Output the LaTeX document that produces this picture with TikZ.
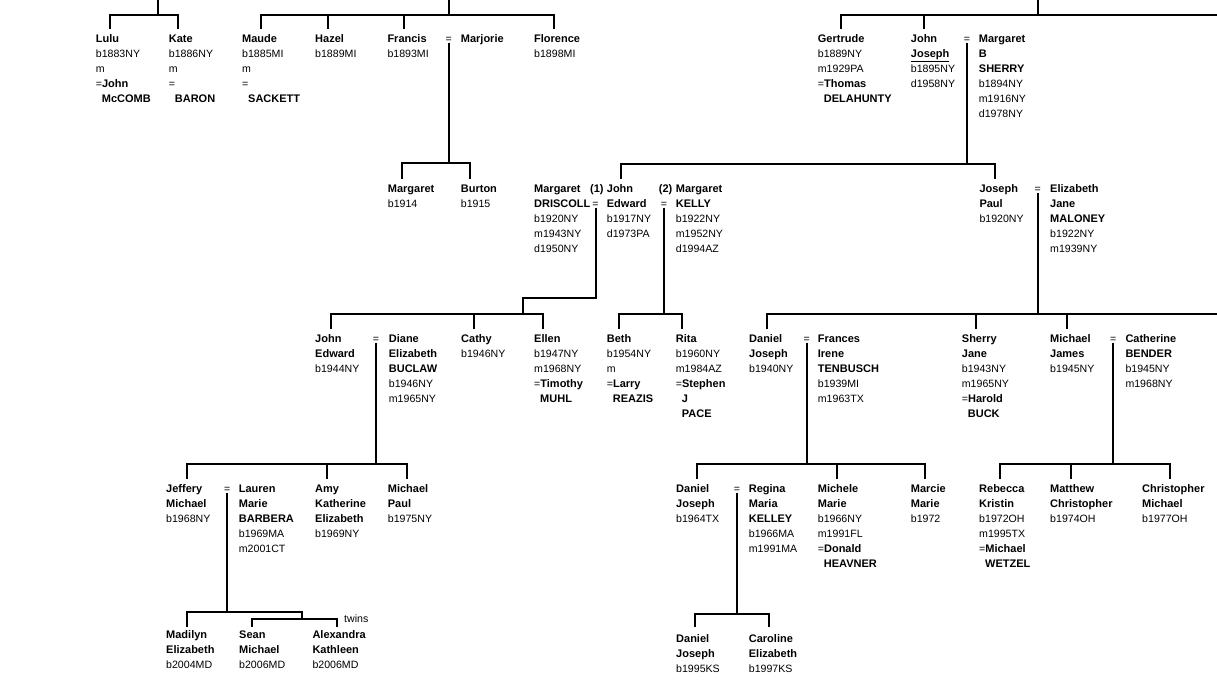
\documentclass[tikz,border=0pt]{standalone}
\usepackage{fontspec}
\setmainfont{Liberation Sans}
\newcommand{\nm}[1]{{\fontsize{11}{15}\selectfont\bfseries\rule{0pt}{10pt}#1}}
\newcommand{\sur}[1]{\hspace*{6pt}\nm{#1}}

\begin{document}
\begin{tikzpicture}[
    x=1pt, y=-1pt,
    % Person text blocks: top of the first line at the given point
    person/.style={anchor=north west, inner sep=0pt, align=left, font=\fontsize{10.6}{15}\selectfont},
    % Marriage sign and small notes
    wed/.style={anchor=base, inner sep=0pt, font=\fontsize{10.6}{15}\selectfont},
    note/.style={anchor=base west, inner sep=0pt, font=\fontsize{10.6}{15}\selectfont},
    % Tree lines
    link/.style={line width=2pt},
]
\useasboundingbox (0,0) rectangle (1217,691);

% Generation 1
\node[person] (lulu) at (95.7,32.5) {\nm{Lulu}\\b1883NY\\m\\=\nm{John}\\\sur{McCOMB}};
\node[person] (kate) at (168.7,32.5) {\nm{Kate}\\b1886NY\\m\\=\\\sur{BARON}};
\node[person] (maude) at (242,32.5) {\nm{Maude}\\b1885MI\\m\\=\\\sur{SACKETT}};
\node[person] (hazel) at (315,32.5) {\nm{Hazel}\\b1889MI};
\node[person] (francis) at (387.3,32.5) {\nm{Francis}\\b1893MI};
\node[wed] (w1FM) at (448.7,42.5) {=};
\node[person] (marjorie) at (460.7,32.5) {\nm{Marjorie}};
\node[person] (florence) at (534,32.5) {\nm{Florence}\\b1898MI};
\node[person] (gertrude) at (817.7,32.5) {\nm{Gertrude}\\b1889NY\\m1929PA\\=\nm{Thomas}\\\sur{DELAHUNTY}};
\node[person] (johnj) at (910.7,32.5) {\nm{John}\\\nm{\underline{Joseph}}\\b1895NY\\d1958NY};
\node[wed] (w1JS) at (967,42.5) {=};
\node[person] (sherryB) at (978.7,32.5) {\nm{Margaret}\\\nm{B}\\\nm{SHERRY}\\b1894NY\\m1916NY\\d1978NY};

% Generation 2
\node[person] (margaret) at (387.7,182.5) {\nm{Margaret}\\b1914};
\node[person] (burton) at (460.7,182.5) {\nm{Burton}\\b1915};
\node[person] (driscoll) at (534,182.5) {\nm{Margaret}\\\nm{DRISCOLL}\\b1920NY\\m1943NY\\d1950NY};
\node[person] (first) at (590,182.5) {\nm{(1)}};
\node[wed] (w2D) at (595.5,207.5) {=};
\node[person] (johne) at (606.7,182.5) {\nm{John}\\\nm{Edward}\\b1917NY\\d1973PA};
\node[person] (second) at (658.7,182.5) {\nm{(2)}};
\node[wed] (w2K) at (664,207.5) {=};
\node[person] (kelly) at (675.7,182.5) {\nm{Margaret}\\\nm{KELLY}\\b1922NY\\m1952NY\\d1994AZ};
\node[person] (josephp) at (979.3,182.5) {\nm{Joseph}\\\nm{Paul}\\b1920NY};
\node[wed] (w2JP) at (1037.7,192.5) {=};
\node[person] (maloney) at (1050,182.5) {\nm{Elizabeth}\\\nm{Jane}\\\nm{MALONEY}\\b1922NY\\m1939NY};

% Generation 3
\node[person] (johne3) at (315,332.5) {\nm{John}\\\nm{Edward}\\b1944NY};
\node[wed] (w3JD) at (376,342.5) {=};
\node[person] (diane) at (388.7,332.5) {\nm{Diane}\\\nm{Elizabeth}\\\nm{BUCLAW}\\b1946NY\\m1965NY};
\node[person] (cathy) at (461,332.5) {\nm{Cathy}\\b1946NY};
\node[person] (ellen) at (534,332.5) {\nm{Ellen}\\b1947NY\\m1968NY\\=\nm{Timothy}\\\sur{MUHL}};
\node[person] (beth) at (606.7,332.5) {\nm{Beth}\\b1954NY\\m\\=\nm{Larry}\\\sur{REAZIS}};
\node[person] (rita) at (675.7,332.5) {\nm{Rita}\\b1960NY\\m1984AZ\\=\nm{Stephen}\\\sur{J}\\\sur{PACE}};
\node[person] (daniel3) at (749,332.5) {\nm{Daniel}\\\nm{Joseph}\\b1940NY};
\node[wed] (w3DF) at (806.7,342.5) {=};
\node[person] (frances) at (817.7,332.5) {\nm{Frances}\\\nm{Irene}\\\nm{TENBUSCH}\\b1939MI\\m1963TX};
\node[person] (sherry) at (961.7,332.5) {\nm{Sherry}\\\nm{Jane}\\b1943NY\\m1965NY\\=\nm{Harold}\\\sur{BUCK}};
\node[person] (michael3) at (1050,332.5) {\nm{Michael}\\\nm{James}\\b1945NY};
\node[wed] (w3MC) at (1113.3,342.5) {=};
\node[person] (bender) at (1125.3,332.5) {\nm{Catherine}\\\nm{BENDER}\\b1945NY\\m1968NY};

% Generation 4
\node[person] (jeffery) at (166,482.5) {\nm{Jeffery}\\\nm{Michael}\\b1968NY};
\node[wed] (w4JL) at (227.3,492.5) {=};
\node[person] (lauren) at (238.7,482.5) {\nm{Lauren}\\\nm{Marie}\\\nm{BARBERA}\\b1969MA\\m2001CT};
\node[person] (amy) at (315,482.5) {\nm{Amy}\\\nm{Katherine}\\\nm{Elizabeth}\\b1969NY};
\node[person] (michaelp) at (387.7,482.5) {\nm{Michael}\\\nm{Paul}\\b1975NY};
\node[person] (daniel4) at (676,482.5) {\nm{Daniel}\\\nm{Joseph}\\b1964TX};
\node[wed] (w4DR) at (737,492.5) {=};
\node[person] (regina) at (748.7,482.5) {\nm{Regina}\\\nm{Maria}\\\nm{KELLEY}\\b1966MA\\m1991MA};
\node[person] (michele) at (817.7,482.5) {\nm{Michele}\\\nm{Marie}\\b1966NY\\m1991FL\\=\nm{Donald}\\\sur{HEAVNER}};
\node[person] (marcie) at (910.7,482.5) {\nm{Marcie}\\\nm{Marie}\\b1972};
\node[person] (rebecca) at (979,482.5) {\nm{Rebecca}\\\nm{Kristin}\\b1972OH\\m1995TX\\=\nm{Michael}\\\sur{WETZEL}};
\node[person] (matthew) at (1050,482.5) {\nm{Matthew}\\\nm{Christopher}\\b1974OH};
\node[person] (christopher) at (1142,482.5) {\nm{Christopher}\\\nm{Michael}\\b1977OH};

% Generation 5
\node[person] (madilyn) at (166,628.5) {\nm{Madilyn}\\\nm{Elizabeth}\\b2004MD};
\node[person] (sean) at (239,628.5) {\nm{Sean}\\\nm{Michael}\\b2006MD};
\node[person] (alexandra) at (312.3,628.5) {\nm{Alexandra}\\\nm{Kathleen}\\b2006MD};
\node[note] (twins) at (344,622.7) {twins};
\node[person] (daniel5) at (676,632.5) {\nm{Daniel}\\\nm{Joseph}\\b1995KS};
\node[person] (caroline) at (748.7,632.5) {\nm{Caroline}\\\nm{Elizabeth}\\b1997KS};

% Junctions
\coordinate (top0L) at (157.7,0);   \coordinate (j0L) at (157.7,15);
\coordinate (top0M) at (448.7,0);   \coordinate (j0M) at (448.7,15);
\coordinate (top0R) at (1038,0);    \coordinate (j0R) at (1038,15);
\coordinate (off0R) at (1217,15);
\coordinate (j1FM) at (448.7,163);
\coordinate (j1JS) at (967,164);
\coordinate (k2D) at (523,298);     \coordinate (j2D) at (523,314);
\coordinate (j2K) at (664,314);
\coordinate (j2JP) at (1037.7,314); \coordinate (off2R) at (1217,314);
\coordinate (j3JD) at (376,464);
\coordinate (j3DF) at (806.7,464);
\coordinate (j3MC) at (1113.3,464);
\coordinate (j4JL) at (227.3,611.7); \coordinate (j4Tw) at (301.7,619.3);
\coordinate (j4DR) at (737,614);

% Lines down to generation 1
\draw[link] (top0L) -- (j0L);
\draw[link] ([xshift=14.3pt,yshift=3.7pt]lulu.north west) |- (j0L);
\draw[link] ([xshift=9pt,yshift=3.7pt]kate.north west) |- (j0L);
\draw[link] (top0M) -- (j0M);
\draw[link] ([xshift=19pt,yshift=3.7pt]maude.north west) |- (j0M);
\draw[link] ([xshift=13pt,yshift=3.7pt]hazel.north west) |- (j0M);
\draw[link] ([xshift=16.7pt,yshift=3.7pt]francis.north west) |- (j0M);
\draw[link] ([xshift=19.7pt,yshift=3.7pt]florence.north west) |- (j0M);
\draw[link] (top0R) -- (j0R) -- (off0R);
\draw[link] ([xshift=23.3pt,yshift=3.7pt]gertrude.north west) |- (j0R);
\draw[link] ([xshift=13.3pt,yshift=3.7pt]johnj.north west) |- (j0R);

% Lines down to generation 2
\draw[link] (w1FM.south) -- (j1FM);
\draw[link] ([xshift=14.3pt,yshift=3.7pt]margaret.north west) |- (j1FM);
\draw[link] ([xshift=9.3pt,yshift=3.7pt]burton.north west) |- (j1FM);
\draw[link] (w1JS.south) -- (j1JS);
\draw[link] ([xshift=14pt,yshift=3.7pt]johne.north west) |- (j1JS);
\draw[link] ([xshift=15.7pt,yshift=3.7pt]josephp.north west) |- (j1JS);

% Lines down to generation 3
\draw[link] (w2D.south) |- (k2D) -- (j2D);
\draw[link] ([xshift=16pt,yshift=3.7pt]johne3.north west) |- (j2D);
\draw[link] ([xshift=13pt,yshift=3.7pt]cathy.north west) |- (j2D);
\draw[link] ([xshift=9pt,yshift=3.7pt]ellen.north west) |- (j2D);
\draw[link] (w2K.south) -- (j2K);
\draw[link] ([xshift=12.3pt,yshift=3.7pt]beth.north west) |- (j2K);
\draw[link] ([xshift=6.3pt,yshift=3.7pt]rita.north west) |- (j2K);
\draw[link] (w2JP.south) -- (j2JP) -- (off2R);
\draw[link] ([xshift=17.7pt,yshift=3.7pt]daniel3.north west) |- (j2JP);
\draw[link] ([xshift=14.3pt,yshift=3.7pt]sherry.north west) |- (j2JP);
\draw[link] ([xshift=17.3pt,yshift=3.7pt]michael3.north west) |- (j2JP);

% Lines down to generation 4
\draw[link] (w3JD.south) -- (j3JD);
\draw[link] ([xshift=20.7pt,yshift=3.7pt]jeffery.north west) |- (j3JD);
\draw[link] ([xshift=11.7pt,yshift=3.7pt]amy.north west) |- (j3JD);
\draw[link] ([xshift=19pt,yshift=3.7pt]michaelp.north west) |- (j3JD);
\draw[link] (w3DF.south) -- (j3DF);
\draw[link] ([xshift=20.7pt,yshift=3.7pt]daniel4.north west) |- (j3DF);
\draw[link] ([xshift=19pt,yshift=3.7pt]michele.north west) |- (j3DF);
\draw[link] ([xshift=14.3pt,yshift=3.7pt]marcie.north west) |- (j3DF);
\draw[link] (w3MC.south) -- (j3MC);
\draw[link] ([xshift=21pt,yshift=3.7pt]rebecca.north west) |- (j3MC);
\draw[link] ([xshift=20.7pt,yshift=3.7pt]matthew.north west) |- (j3MC);
\draw[link] ([xshift=28pt,yshift=3.7pt]christopher.north west) |- (j3MC);

% Lines down to generation 5
\draw[link] (w4JL.south) -- (j4JL);
\draw[link] ([xshift=20.7pt,yshift=1.8pt]madilyn.north west) |- (j4JL);
\draw[link] (j4JL) -| (j4Tw);
\draw[link] ([xshift=12.7pt,yshift=1.8pt]sean.north west) |- (j4Tw);
\draw[link] ([xshift=24.4pt,yshift=1.8pt]alexandra.north west) |- (j4Tw);
\draw[link] (w4DR.south) -- (j4DR);
\draw[link] ([xshift=19pt,yshift=5.8pt]daniel5.north west) |- (j4DR);
\draw[link] ([xshift=20pt,yshift=5.8pt]caroline.north west) |- (j4DR);

\end{tikzpicture}
\end{document}
